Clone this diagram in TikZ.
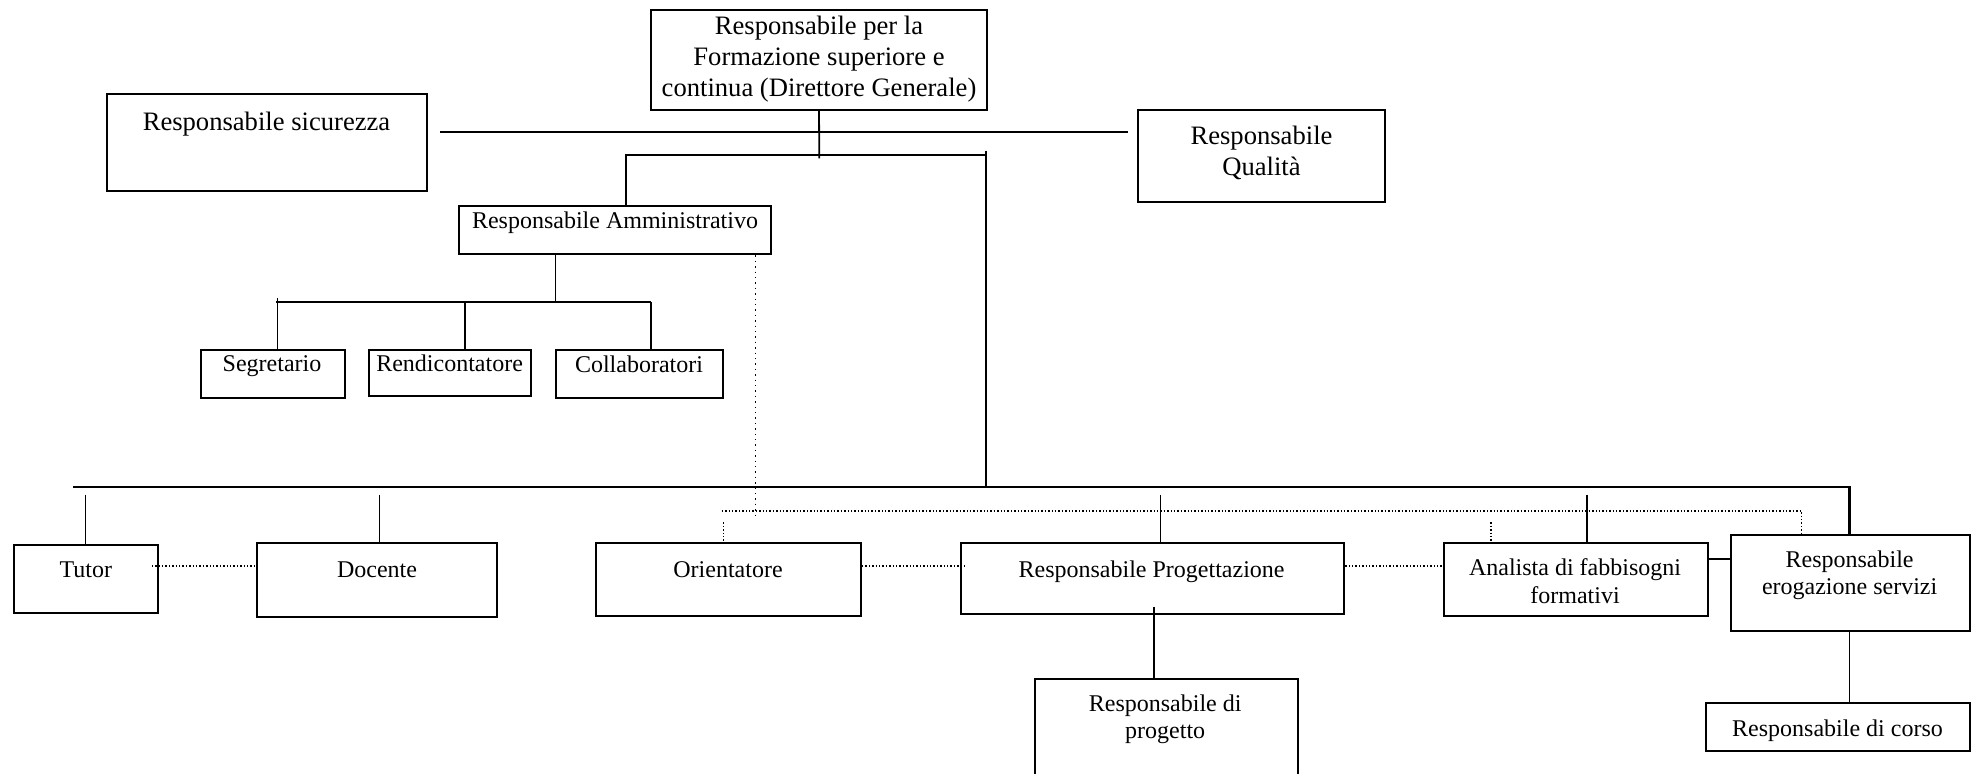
\documentclass[tikz,border=0pt]{standalone}
\usepackage{fontspec}
\setmainfont{Liberation Serif}
\begin{document}
\begin{tikzpicture}[x=0.5pt,y=-0.5pt,
  box/.style={draw, line width=1pt, inner sep=0pt, rectangle},
  lg/.style={inner sep=0pt, anchor=base, font=\fontsize{13.3}{15.4}\selectfont},
  sm/.style={inner sep=0pt, anchor=base, font=\fontsize{12}{13.8}\selectfont},
  conn/.style={line width=0.9pt},
  bigline/.style={line width=1.1pt},
  dot/.style={line width=0.7pt, densely dotted}]
\useasboundingbox (0,0) rectangle (1973,773);
% boxes
\node[box, minimum width=168.3pt, minimum height=50pt] (dg) at (819,60) {};
\node[box, minimum width=160.05pt, minimum height=48.2pt] (sic) at (266.55,142.5) {};
\node[box, minimum width=123.2pt, minimum height=46.3pt] (qual) at (1261.5,156) {};
\node[box, minimum width=156pt, minimum height=24.3pt] (amm) at (615,230) {};
\node[box, minimum width=72pt, minimum height=24pt] (seg) at (273,374) {};
\node[box, minimum width=81.2pt, minimum height=23pt] (rend) at (449.8,372.7) {};
\node[box, minimum width=83.75pt, minimum height=24pt] (coll) at (639.25,374) {};
\node[box, minimum width=71.75pt, minimum height=34.3pt] (tutor) at (85.75,579) {};
\node[box, minimum width=120.2pt, minimum height=36.7pt] (doc) at (377.2,580) {};
\node[box, minimum width=132.35pt, minimum height=36.35pt] (ori) at (728.65,579.35) {};
\node[box, minimum width=191.85pt, minimum height=35.5pt] (prog) at (1152.35,578.8) {};
\node[box, minimum width=132.05pt, minimum height=36.2pt] (ana) at (1575.65,579.5) {};
\node[box, minimum width=119.7pt, minimum height=48.15pt] (ero) at (1850.2,583.15) {};
\node[box, minimum width=131.7pt, minimum height=60.5pt] (rdp) at (1166.2,739.5) {};
\node[box, minimum width=131.75pt, minimum height=23.85pt] (rdc) at (1838.15,727.15) {};
% texts
\node[lg] (dgT1) at (819,34) {Responsabile per la};
\node[lg] (dgT2) at (819,65) {Formazione superiore e};
\node[lg] (dgT3) at (819,96) {continua (Direttore Generale)};
\node[lg] (sicT) at (266.5,130.5) {Responsabile sicurezza};
\node[lg] (qualT1) at (1261.5,144) {Responsabile};
\node[lg] (qualT2) at (1261.5,175) {Qualità};
\node[sm] (ammT) at (615,228.3) {Responsabile Amministrativo};
\node[sm] (segT) at (272,371.7) {Segretario};
\node[sm] (rendT) at (449.6,371) {Rendicontatore};
\node[sm] (collT) at (639,372) {Collaboratori};
\node[sm] (tutorT) at (85.8,577) {Tutor};
\node[sm] (docT) at (377,577) {Docente};
\node[sm] (oriT) at (728,577) {Orientatore};
\node[sm] (progT) at (1151.6,577) {Responsabile Progettazione};
\node[sm] (anaT1) at (1575,575) {Analista di fabbisogni};
\node[sm] (anaT2) at (1575,603) {formativi};
\node[sm] (eroT1) at (1849.6,567) {Responsabile};
\node[sm] (eroT2) at (1849.6,594.5) {erogazione servizi};
\node[sm] (rdpT1) at (1165.2,711.5) {Responsabile di};
\node[sm] (rdpT2) at (1165.2,738.5) {progetto};
\node[sm] (rdcT) at (1837.5,736) {Responsabile di corso};
% top connectors
\coordinate (dgJ) at (819.3,158.3);
\draw[conn] (dg.south) -- (dgJ);
\coordinate (sL) at (440,132.3);
\coordinate (qR) at (1127.6,132.3);
\draw[conn] (sL) -- (qR);
\coordinate (aT) at (625.7,155);
\coordinate (rT) at (986,155);
\coordinate (rTop) at (986,150.7);
\coordinate (rB) at (986,486.7);
\draw[conn] (amm.north -| aT) -- (aT) -- (rT);
\draw[conn] (rTop) -- (rB);
% administrative branch
\coordinate (aB) at (555.5,302);
\draw[conn] (amm.south -| aB) -- (aB);
\coordinate (sbL) at (276,302);
\coordinate (sbR) at (651,302);
\draw[conn] (sbL) -- (sbR);
\coordinate (s1) at (277.4,298);
\coordinate (s2) at (465,302);
\draw[conn] (s1) -- (seg.north -| s1);
\draw[conn] (s2) -- (rend.north -| s2);
\draw[conn] (sbR) -- (coll.north -| sbR);
% big horizontal line
\coordinate (bL) at (73,486.7);
\coordinate (bR) at (1849.5,486.7);
\draw[bigline] (bL) -- (bR) -- (ero.north -| bR);
\coordinate (t1) at (85.5,494.7);
\coordinate (t2) at (379.5,494.7);
\coordinate (t3) at (1160.5,494.7);
\coordinate (t4) at (1587.3,494.7);
\draw[conn] (t1) -- (tutor.north -| t1);
\draw[conn] (t2) -- (doc.north -| t2);
\draw[conn] (t3) -- (prog.north -| t3);
\draw[conn] (t4) -- (ana.north -| t4);
% dotted links
\coordinate (d0) at (755.3,516.7);
\draw[line width=0.7pt, dotted] (amm.south -| d0) -- (d0);
\coordinate (dL) at (721.7,511);
\coordinate (dR) at (1801.7,511);
\draw[dot] (dL) -- (dR) -- (ero.north -| dR);
\coordinate (d1) at (723.3,522.3);
\coordinate (d2) at (1491.1,522.3);
\draw[dot] (d1) -- (ori.north -| d1);
\draw[dot] (d2) -- (ana.north -| d2);
\coordinate (h1) at (151.8,566);
\draw[dot] (h1) -- (doc.west |- h1);
\coordinate (h2) at (966.8,566);
\draw[dot] (ori.east |- h2) -- (h2);
\draw[dot] (prog.east |- h2) -- (ana.west |- h2);
\coordinate (ae) at (1720,559);
\draw[conn] (ana.east |- ae) -- (ero.west |- ae);
% lower connectors
\coordinate (p1) at (1153.6,606.7);
\draw[conn] (p1) -- (rdp.north -| p1);
\draw[conn] (ero.south -| bR) -- (rdc.north -| bR);
\end{tikzpicture}
\end{document}
